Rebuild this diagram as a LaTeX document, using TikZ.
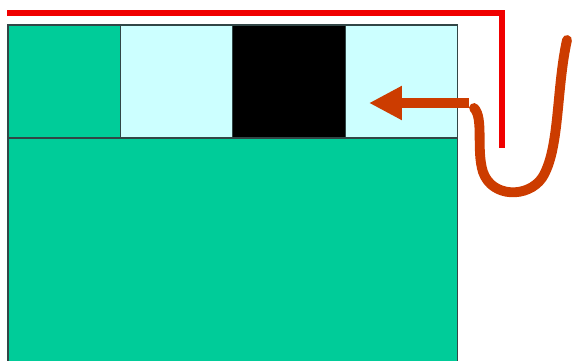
\documentclass[tikz,border=0pt]{standalone}
\usepackage{tikz}
\usetikzlibrary{arrows.meta,positioning}
\usepackage{xcolor}
\definecolor{seagreen}{RGB}{0,204,153}
\definecolor{palecyan}{RGB}{204,255,255}
\definecolor{edgegray}{RGB}{50,70,70}
\definecolor{brightred}{RGB}{240,0,0}
\definecolor{rustred}{RGB}{204,60,0}
\tikzset{
  cell/.style={rectangle, draw=edgegray, line width=0.6pt, outer sep=0pt, inner sep=0pt,
               minimum width=2.25cm, minimum height=2.26cm},
  cellgreen/.style={cell, fill=seagreen},
  cellcyan/.style={cell, fill=palecyan},
  cellblack/.style={cell, fill=black},
  redline/.style={brightred, line width=3.4pt},
  scribble/.style={rustred, line width=5.6pt, line cap=round, line join=round},
  bigarrow/.style={-{Triangle[length=0.66cm, width=0.64cm]}, rustred, line width=5.6pt},
}
\begin{document}
\begin{tikzpicture}[x=0.02cm, y=-0.02cm]
\useasboundingbox (0,0) rectangle (572,361);
% top row of cells
\node[cellgreen, anchor=north west] (c1) at (8,25) {};
\node[cellcyan, right=0pt of c1] (c2) {};
\node[cellblack, right=0pt of c2] (c3) {};
\node[cellcyan, right=0pt of c3] (c4) {};
% lower block
\node[cellgreen, below right=0pt of c1.south west, minimum width=9cm, minimum height=4.7cm] (base) {};
% red outline
\draw[redline] (7,13) -| (502,148);
% hand-drawn stroke and arrow
\coordinate (tail) at (469,103);
\coordinate (tip) at (369,103);
\draw[scribble] (567,40) .. controls (556,90) and (560,150) .. (542,178)
  .. controls (528,198) and (492,198) .. (483,172)
  .. controls (476,150) and (484,118) .. (474,108);
\draw[bigarrow] (tail) -- (tip);
\end{tikzpicture}
\end{document}
